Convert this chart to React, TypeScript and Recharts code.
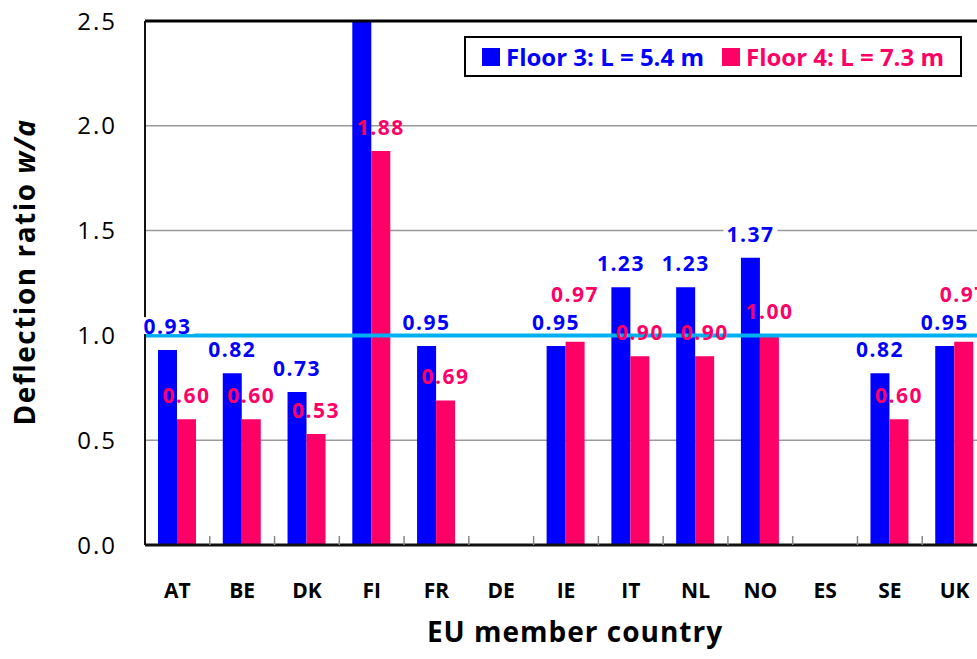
import React from 'react';
import {
  BarChart,
  Bar,
  XAxis,
  YAxis,
  CartesianGrid,
  ReferenceLine,
  LabelList,
  Legend,
} from 'recharts';

const COUNTRIES = ['AT', 'BE', 'DK', 'FI', 'FR', 'DE', 'IE', 'IT', 'NL', 'NO', 'ES', 'SE', 'UK'];
// FI floor 3 runs off the top of the axis, its value is not printed
const FLOOR3 = [0.93, 0.82, 0.73, 2.9, 0.95, null, 0.95, 1.23, 1.23, 1.37, null, 0.82, 0.95];
const FLOOR4 = [0.6, 0.6, 0.53, 1.88, 0.69, null, 0.97, 0.9, 0.9, 1.0, null, 0.6, 0.97];
const Y_TICKS = [0, 0.5, 1.0, 1.5, 2.0, 2.5];
const Y_MAX = 2.5;

const BLUE = '#0000FF';
const PINK = '#FF0066';
const FONT = '"Open Sans", "Noto Sans", sans-serif';

const data = COUNTRIES.map((c, i) => ({ country: c, f3: FLOOR3[i], f4: FLOOR4[i] }));

// pink label is lifted when it would sit on top of the blue one
const liftFor = (row: any, isF4: boolean) => {
  if (!isF4 || !row) return 0;
  const a = row.f3;
  const b = row.f4;
  if (a == null || b == null) return 0;
  return b >= a && b - a < 0.1 ? 24 : 0;
};

const makeBarLabel = (color: string, withBg: boolean, key: 'f3' | 'f4') => (props: any) => {
  const { x, y, width } = props;
  const row = props.value && typeof props.value === 'object' ? props.value : props.payload;
  const value = row ? row[key] : props.value;
  if (value == null || value > Y_MAX) return null;
  const cx = Number(x) + Number(width) / 2;
  const base = Number(y) - 16 - liftFor(row, key === 'f4');
  return (
    <g>
      {withBg && <rect x={cx - 27} y={base - 17} width={54} height={17} fill="#fff" />}
      <text
        x={cx}
        y={base}
        textAnchor="middle"
        fill={color}
        fontFamily={FONT}
        fontWeight={700}
        fontSize={21}
        letterSpacing={1.5}
      >
        {Number(value).toFixed(2)}
      </text>
    </g>
  );
};

const CountryTick = (props: any) => {
  const { x, y, payload } = props;
  const half = payload && payload.offset ? payload.offset : 32;
  return (
    <g>
      <line x1={x + half} x2={x + half} y1={y} y2={y - 9} stroke="#888" strokeWidth={1.5} />
      <text x={x} y={y + 53} textAnchor="middle" fill="#000" fontFamily={FONT} fontWeight={700} fontSize={21}>
        {payload.value}
      </text>
    </g>
  );
};

const YTitle = (props: any) => {
  const vb = props.viewBox || { y: 21, height: 524 };
  const cy = vb.y + vb.height / 2 - 11;
  const bx = 35;
  return (
    <text
      x={bx}
      y={cy}
      transform={`rotate(-90, ${bx}, ${cy})`}
      textAnchor="middle"
      fill="#000"
      fontFamily={FONT}
      fontWeight={700}
      fontSize={28}
      letterSpacing={1.5}
    >
      Deflection ratio <tspan fontStyle="italic">w/a</tspan>
    </text>
  );
};

const LegendBox = () => (
  <div
    style={{
      boxSizing: 'border-box',
      width: 498,
      height: 41,
      border: '2px solid #000',
      background: '#fff',
      display: 'flex',
      alignItems: 'center',
      paddingLeft: 16,
      fontFamily: FONT,
      fontWeight: 700,
      fontSize: 24,
      whiteSpace: 'nowrap',
    }}
  >
    <span style={{ width: 18, height: 18, background: BLUE, display: 'inline-block', marginRight: 6 }} />
    <span style={{ color: BLUE }}>Floor 3: L = 5.4 m</span>
    <span style={{ width: 18, height: 18, background: PINK, display: 'inline-block', marginLeft: 18, marginRight: 6 }} />
    <span style={{ color: PINK }}>Floor 4: L = 7.3 m</span>
  </div>
);

const rowAccessor = (entry: any) => entry.payload;

export default function App() {
  return (
    <div
      style={{
        position: 'fixed',
        left: 0,
        top: 0,
        width: 977,
        height: 659,
        overflow: 'hidden',
        background: '#fff',
      }}
    >
      <BarChart
        width={992}
        height={659}
        data={data}
        margin={{ top: 21, right: 5, left: 0, bottom: 0 }}
        barSize={19}
        barGap={0}
      >
        <CartesianGrid horizontal vertical={false} stroke="#999" strokeWidth={1.5} />
        <XAxis
          dataKey="country"
          height={114}
          tickSize={0}
          tickMargin={0}
          axisLine={{ stroke: '#111', strokeWidth: 3 }}
          tick={<CountryTick />}
          interval={0}
          label={{
            value: 'EU member country',
            position: 'insideBottom',
            offset: 17,
            dx: 9,
            fill: '#000',
            fontFamily: FONT,
            fontWeight: 700,
            fontSize: 28,
            letterSpacing: 1,
          }}
        />
        <YAxis
          width={145}
          domain={[0, Y_MAX]}
          ticks={Y_TICKS}
          allowDataOverflow
          tickSize={0}
          tickMargin={28}
          tickFormatter={(v: number) => v.toFixed(1)}
          axisLine={{ stroke: '#111', strokeWidth: 2 }}
          tick={{ fill: '#000', fontFamily: FONT, fontSize: 24, letterSpacing: 2 }}
          label={<YTitle />}
        />
        <Legend
          layout="vertical"
          align="center"
          verticalAlign="middle"
          wrapperStyle={{ top: 36, left: 464, width: 498, height: 41 }}
          content={<LegendBox />}
        />
        <Bar dataKey="f3" name="Floor 3: L = 5.4 m" fill={BLUE} isAnimationActive={false}>
          <LabelList valueAccessor={rowAccessor} content={makeBarLabel(BLUE, true, 'f3')} />
        </Bar>
        <Bar dataKey="f4" name="Floor 4: L = 7.3 m" fill={PINK} isAnimationActive={false}>
          <LabelList valueAccessor={rowAccessor} content={makeBarLabel(PINK, false, 'f4')} />
        </Bar>
        <ReferenceLine y={1.0} stroke="#00B0F0" strokeWidth={4} />
        <ReferenceLine y={Y_MAX} stroke="#000" strokeWidth={3} />
      </BarChart>
    </div>
  );
}
